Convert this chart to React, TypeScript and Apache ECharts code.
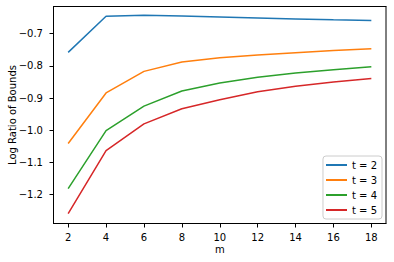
import React, { useEffect, useRef } from "react";
import * as echarts from "echarts";

const mValues = [2, 4, 6, 8, 10, 12, 14, 16, 18];
const t2 = [-0.758, -0.646, -0.643, -0.645, -0.648, -0.651, -0.654, -0.657, -0.659];
const t3 = [-1.041, -0.884, -0.817, -0.788, -0.775, -0.766, -0.759, -0.752, -0.747];
const t4 = [-1.181, -1.001, -0.925, -0.878, -0.853, -0.835, -0.822, -0.812, -0.803];
const t5 = [-1.259, -1.063, -0.98, -0.933, -0.905, -0.88, -0.863, -0.85, -0.839];
const seriesNames = ["t = 2", "t = 3", "t = 4", "t = 5"];
const colors = ["#1f77b4", "#ff7f0e", "#2ca02c", "#d62728"];
const xTicks = [2, 4, 6, 8, 10, 12, 14, 16, 18];
const yTicks = [-1.2, -1.1, -1.0, -0.9, -0.8, -0.7];

const fmtY = (v: number) => (v < 0 ? "\u2212" : "") + Math.abs(v).toFixed(1);

export default function App() {
  const ref = useRef<HTMLDivElement>(null);
  useEffect(() => {
    if (!ref.current) return;
    const chart = echarts.init(ref.current, null, { renderer: "svg" });
    const font = "DejaVu Sans";
    const data = [t2, t3, t4, t5];
    const W = 394, H = 262;
    const G = { left: 53, right: 7.5, top: 6, bottom: 38 };
    const x0 = G.left + 0.5, y0 = G.top + 0.5;
    const x1 = W - G.right - 0.5, y1 = H - G.bottom - 0.5;
    const edge = (a: number[], b: number[]) => ({
      type: "line",
      silent: true,
      z: 100,
      shape: { x1: a[0], y1: a[1], x2: b[0], y2: b[1] },
      style: { stroke: "#000000", lineWidth: 1 },
    });
    chart.setOption({
      animation: false,
      textStyle: { fontFamily: font },
      grid: {
        left: G.left,
        right: G.right,
        top: G.top,
        bottom: G.bottom,
        outerBoundsMode: "none",
        containLabel: false,
      },
      graphic: [
        edge([x0 - 0.5, y0], [x1 + 0.5, y0]),
        edge([x1, y0], [x1, y1]),
        edge([x0 - 0.5, y1], [x1 + 0.5, y1]),
        edge([x0, y0], [x0, y1]),
      ],
      legend: {
        orient: "vertical",
        right: 12,
        bottom: 43,
        data: seriesNames,
        icon: "rect",
        itemWidth: 21,
        itemHeight: 2,
        itemGap: 3,
        padding: [3, 5, 3, 3],
        borderColor: "#cccccc",
        borderWidth: 1,
        borderRadius: 3,
        backgroundColor: "rgba(255,255,255,0.8)",
        textStyle: { fontFamily: font, fontSize: 10, color: "#000", lineHeight: 12 },
        z: 120,
      },
      xAxis: {
        type: "value",
        min: 1.2,
        max: 18.8,
        name: "m",
        nameLocation: "middle",
        nameGap: 20,
        nameMoveOverlap: false,
        nameTextStyle: { fontFamily: font, fontSize: 10, color: "#000" },
        axisLine: { show: false },
        axisTick: { show: true, length: 3.5, customValues: xTicks, lineStyle: { color: "#000", width: 1 } },
        axisLabel: { customValues: xTicks, fontSize: 10, color: "#000", margin: 8, fontFamily: font },
        splitLine: { show: false },
      },
      yAxis: {
        type: "value",
        min: -1.291,
        max: -0.614,
        name: "Log Ratio of Bounds",
        nameLocation: "middle",
        nameGap: 36,
        nameMoveOverlap: false,
        nameTextStyle: { fontFamily: font, fontSize: 10, color: "#000" },
        axisLine: { show: false },
        axisTick: { show: true, length: 3.5, customValues: yTicks, lineStyle: { color: "#000", width: 1 } },
        axisLabel: {
          customValues: yTicks,
          fontSize: 10,
          color: "#000",
          margin: 10,
          fontFamily: font,
          formatter: (v: number) => fmtY(v),
        },
        splitLine: { show: false },
      },
      series: data.map((d, i) => ({
        name: seriesNames[i],
        type: "line",
        data: d.map((v, j) => [mValues[j], v]),
        showSymbol: false,
        symbol: "none",
        lineStyle: { color: colors[i], width: 1.5 },
        itemStyle: { color: colors[i] },
      })),
    });
    return () => chart.dispose();
  }, []);
  return (
    <div
      ref={ref}
      style={{ position: "absolute", left: 0, top: 0, width: 394, height: 262 }}
    />
  );
}
